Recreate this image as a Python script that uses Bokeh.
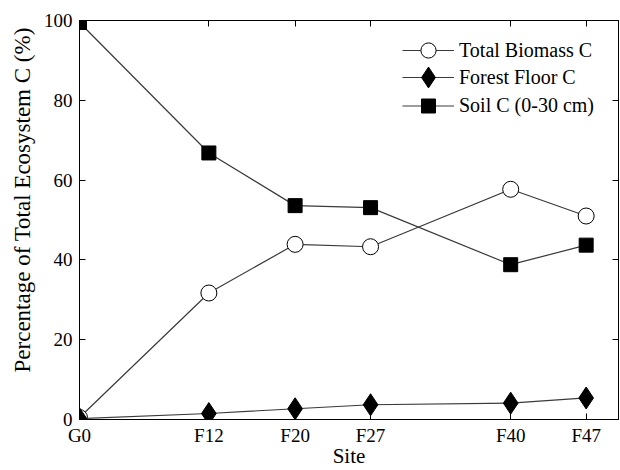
from bokeh.plotting import figure
from bokeh.models import Range1d, FixedTicker, LinearAxis, Legend, LegendItem
from bokeh.embed import file_html
from bokeh.resources import INLINE

sites = ["G0", "F12", "F20", "F27", "F40", "F47"]
site_age = [0, 12, 20, 27, 40, 47]
biomass_c = [0.5, 31.7, 43.9, 43.3, 57.7, 51.0]
forest_floor_c = [0.2, 1.5, 2.7, 3.7, 4.1, 5.4]
soil_c = [99.5, 66.8, 53.6, 53.1, 38.8, 43.7]
y_ticks = [0, 20, 40, 60, 80, 100]
y_title = "Percentage of Total Ecosystem C (%)"

FONT = "Liberation Serif"

p = figure(width=620, height=470, output_backend="svg", toolbar_location=None,
           x_range=Range1d(0, 50), y_range=Range1d(0, 100),
           min_border_left=79, min_border_right=2, min_border_top=20, min_border_bottom=50)
p.xgrid.visible = False
p.ygrid.visible = False
p.outline_line_color = "black"
p.outline_line_width = 1
p.background_fill_color = "white"
p.border_fill_color = "white"

line_color = "#3a3a3a"
lw = 1.2

l1 = p.line(site_age, biomass_c, line_color=line_color, line_width=lw)
m1 = p.scatter(site_age, biomass_c, marker="circle", size=16, fill_color="white",
               line_color="black", line_width=1)
l2 = p.line(site_age, forest_floor_c, line_color=line_color, line_width=lw)
m2 = p.scatter(site_age, forest_floor_c, marker="diamond", size=22, fill_color="black",
               line_color="black")
l3 = p.line(site_age, soil_c, line_color=line_color, line_width=lw)
m3 = p.scatter(site_age, soil_c, marker="square", size=14, fill_color="black",
               line_color="black")

def style_axis(ax, labels=True):
    ax.major_tick_in = 6
    ax.major_tick_out = 0
    ax.minor_tick_in = 0
    ax.minor_tick_out = 0
    ax.axis_line_color = "black"
    ax.major_tick_line_color = "black"
    ax.major_label_text_font = FONT
    ax.major_label_text_color = "black"
    ax.major_label_text_font_size = "19px"
    ax.axis_label_text_font = FONT
    ax.axis_label_text_font_style = "normal"
    ax.axis_label_text_color = "black"
    ax.axis_label_text_font_size = "21px"
    if not labels:
        ax.major_label_text_font_size = "1px"
        ax.major_label_text_color = None
        ax.major_label_standoff = 0

xa = p.xaxis[0]
xa.ticker = FixedTicker(ticks=site_age)
xa.major_label_overrides = {a: s for a, s in zip(site_age, sites)}
xa.axis_label = "Site"
style_axis(xa)
xa.major_label_standoff = 5
xa.axis_label_standoff = -5

ya = p.yaxis[0]
ya.ticker = FixedTicker(ticks=y_ticks)
# leading no-break spaces lift the visible title a little above the frame centre
ya.axis_label = "\u00a0" * 7 + y_title
style_axis(ya)
ya.axis_label_text_font_size = "23px"
ya.major_label_standoff = 7
ya.axis_label_standoff = 6

top = LinearAxis(ticker=FixedTicker(ticks=site_age))
style_axis(top, labels=False)
p.add_layout(top, "above")
right = LinearAxis(ticker=FixedTicker(ticks=y_ticks))
style_axis(right, labels=False)
p.add_layout(right, "right")

# one legend per entry so that each row's marker size and position can be set
legend_rows = [
    ("Total Biomass C", [l1, m1], 38, (323, 350)),
    ("Forest Floor C", [l2, m2], 52, (323, 316)),
    ("Soil C (0-30 cm)", [l3, m3], 35, (323, 296)),
]
for label, rends, gh, loc in legend_rows:
    lg = Legend(items=[LegendItem(label=label, renderers=rends)], location=loc)
    lg.border_line_color = None
    lg.background_fill_alpha = 0
    lg.padding = 0
    lg.margin = 0
    lg.spacing = 0
    lg.glyph_width = 52
    lg.glyph_height = gh
    lg.label_height = 20
    lg.label_standoff = 5
    lg.label_text_font = FONT
    lg.label_text_font_size = "20px"
    lg.label_text_color = "black"
    p.add_layout(lg, "center")

open("out.html", "w").write(file_html(p, INLINE))
